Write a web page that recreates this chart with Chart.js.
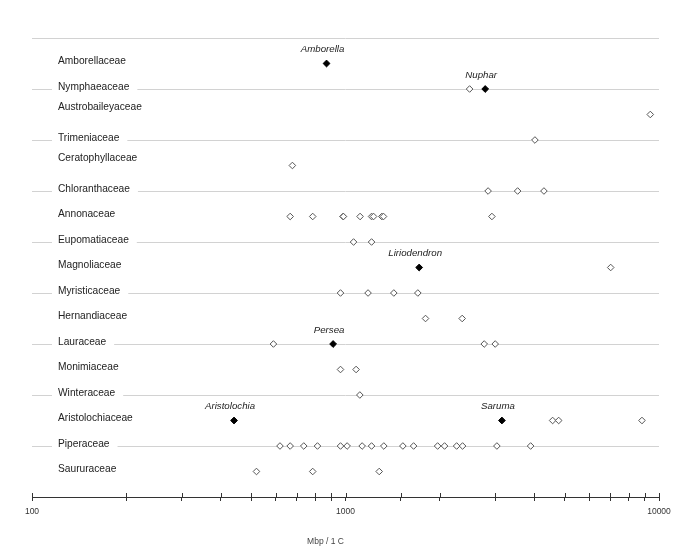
<!DOCTYPE html>
<html>
<head>
<meta charset="utf-8">
<title>Genome size by family</title>
<script src="https://cdn.jsdelivr.net/npm/chart.js@4.4.1/dist/chart.umd.min.js"></script>
<style>
  body { margin: 0; background: #fff; }
  #wrap { width: 685px; height: 556px; position: relative; }
</style>
</head>
<body>
<div id="wrap"><canvas id="genomeChart"></canvas></div>
<script>
// Families from top to bottom.
const families = [
  "Amborellaceae", "Nymphaeaceae", "Austrobaileyaceae", "Trimeniaceae",
  "Ceratophyllaceae", "Chloranthaceae", "Annonaceae", "Eupomatiaceae",
  "Magnoliaceae", "Myristicaceae", "Hernandiaceae", "Lauraceae",
  "Monimiaceae", "Winteraceae", "Aristolochiaceae", "Piperaceae", "Saururaceae"
];

// Genome sizes (Mbp / 1C) of the other species in each family (open diamonds).
const otherSpecies = [
  [],
  [2488],
  [9380],
  [4020],
  [677],
  [2850, 3540, 4295],
  [666, 786, 982, 985, 1113, 1211, 1229, 1306, 1322, 2931],
  [1061, 1211],
  [7013],
  [964, 1180, 1426, 1701],
  [1800, 2356],
  [589, 2770, 3003],
  [964, 1081],
  [1111],
  [4578, 4786, 8824],
  [618, 666, 736, 814, 964, 1012, 1130, 1211, 1325, 1524, 1649, 1967, 2070, 2262, 2363, 3040, 3895],
  [520, 786, 1281]
];

// Sequenced genera (filled diamonds).
const genera = ["Amborella", "Nuphar", "Liriodendron", "Persea", "Aristolochia", "Saruma"];
const generaFamilies = ["Amborellaceae", "Nymphaeaceae", "Magnoliaceae", "Lauraceae", "Aristolochiaceae", "Aristolochiaceae"];
const generaSizes = [870, 2790, 1718, 913, 441, 3154];

const xTickLabels = [100, 1000, 10000];
const xTitle = "Mbp / 1 C";

// Row number of a family, counted from the bottom.
function rowOf(family) {
  return families.length - families.indexOf(family);
}

const openPoints = [];
families.forEach((f, i) => {
  otherSpecies[i].forEach(v => openPoints.push({ x: v, y: rowOf(f) }));
});

const filledPoints = genera.map((g, i) => ({
  x: generaSizes[i],
  y: rowOf(generaFamilies[i]),
  genus: g
}));

// Family names on white boxes, genus names, ticks above the axis and axis title.
const annotations = {
  id: "annotations",
  afterDraw(chart) {
    const ctx = chart.ctx;
    const area = chart.chartArea;
    const xScale = chart.scales.x;
    const yScale = chart.scales.y;

    ctx.save();
    ctx.font = "10.2px 'Liberation Sans', Arial, sans-serif";
    ctx.textBaseline = "middle";
    ctx.textAlign = "left";
    families.forEach(f => {
      const y = yScale.getPixelForValue(rowOf(f));
      const w = ctx.measureText(f).width;
      ctx.fillStyle = "#fff";
      ctx.fillRect(area.left + 20, y - 4, w + 14, 8);
      ctx.fillStyle = "#222";
      const lift = (f === "Austrobaileyaceae" || f === "Ceratophyllaceae") ? 7 : 2;
      ctx.fillText(f, area.left + 26, y - lift);
    });

    ctx.font = "italic 9.7px 'Liberation Sans', Arial, sans-serif";
    ctx.textAlign = "center";
    ctx.fillStyle = "#222";
    filledPoints.forEach(p => {
      const px = xScale.getPixelForValue(p.x);
      const py = yScale.getPixelForValue(p.y);
      ctx.fillText(p.genus, px - 4, py - 14);
    });

    ctx.strokeStyle = "#333";
    ctx.lineWidth = 1;
    xScale.ticks.forEach(t => {
      const px = Math.round(xScale.getPixelForValue(t.value)) + 0.5;
      ctx.beginPath();
      ctx.moveTo(px, area.bottom - 4);
      ctx.lineTo(px, area.bottom);
      ctx.stroke();
    });

    ctx.font = "8.5px 'Liberation Sans', Arial, sans-serif";
    ctx.fillStyle = "#444";
    ctx.fillText(xTitle, (area.left + area.right) / 2 - 20, 542);
    ctx.restore();
  }
};

const ctx = document.getElementById("genomeChart").getContext("2d");
new Chart(ctx, {
  type: "scatter",
  data: {
    datasets: [
      {
        label: "Other species",
        data: openPoints,
        pointStyle: "rectRot",
        pointRadius: 3.3,
        borderWidth: 1,
        borderColor: "#555",
        backgroundColor: "#fff"
      },
      {
        label: "Sequenced genera",
        data: filledPoints,
        pointStyle: "rectRot",
        pointRadius: 3.4,
        borderWidth: 1,
        borderColor: "#000",
        backgroundColor: "#000"
      }
    ]
  },
  options: {
    responsive: true,
    maintainAspectRatio: false,
    animation: false,
    layout: { padding: { left: 32, right: 26, top: 38, bottom: 0 } },
    plugins: {
      legend: { display: false },
      tooltip: { enabled: false }
    },
    scales: {
      x: {
        type: "logarithmic",
        min: 100,
        max: 10000,
        afterFit: scale => { scale.height = 59; },
        border: { display: true, color: "#333", width: 1 },
        grid: { drawOnChartArea: false, drawTicks: true, tickLength: 4, color: "#333" },
        ticks: {
          autoSkip: false,
          maxRotation: 0,
          padding: 6,
          color: "#333",
          font: { family: "'Liberation Sans', Arial, sans-serif", size: 8.5 },
          callback: value => xTickLabels.includes(value) ? String(value) : ""
        }
      },
      y: {
        min: 0,
        max: families.length + 1,
        afterFit: scale => { scale.width = 0; },
        border: { display: false },
        grid: {
          drawTicks: false,
          color: c => (c.tick.value > 0 && c.tick.value % 2 === 0) ? "#d2d2d2" : "rgba(0,0,0,0)"
        },
        ticks: { display: false, stepSize: 1 }
      }
    }
  },
  plugins: [annotations]
});
</script>
</body>
</html>
